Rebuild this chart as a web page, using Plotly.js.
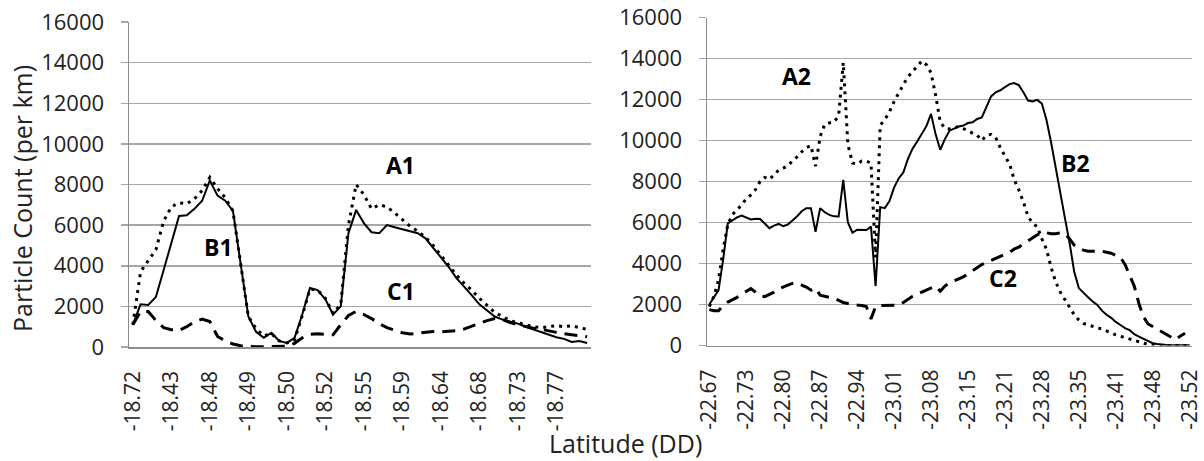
<!DOCTYPE html>
<html>
<head>
<meta charset="utf-8">
<script src="https://cdn.plot.ly/plotly-3.0.1.min.js"></script>
<style>
  html, body { margin: 0; padding: 0; background: #ffffff; }
  #chart { width: 1204px; height: 461px; }
</style>
</head>
<body>
<div id="chart"></div>
<script>
// ---------- Data ----------
// Left panel: 60 samples; a latitude label is shown every 5th sample
const latLabelsLeft = ['-18.72','-18.43','-18.48','-18.49','-18.50','-18.52','-18.55','-18.59','-18.64','-18.68','-18.73','-18.77'];
const labelStepLeft = 5;
const tickStepLeft = 10;

const seriesA1 = [1100,3700,4250,4800,6200,6900,7100,7050,7300,7700,
  8350,7800,7350,6700,4100,1500,900,550,650,300,
  200,350,1550,2850,2800,2400,1650,2100,6000,8000,
  7500,6800,7000,6900,6600,6250,5950,5700,5400,5000,
  4500,4000,3550,3150,2800,2400,2050,1700,1500,1300,
  1200,1100,1000,950,1000,1050,1000,1050,950,870];

const seriesB1 = [1100,2100,2070,2470,3790,5180,6450,6490,6800,7200,
  8200,7450,7200,6700,4100,1500,750,450,700,300,
  200,450,1600,2900,2800,2350,1600,2000,5600,6750,
  6100,5650,5600,6000,5900,5800,5700,5600,5350,4900,
  4450,3950,3400,3000,2550,2100,1800,1500,1350,1250,
  1150,1000,870,750,600,480,400,250,300,200];

const seriesC1 = [1100,1750,1750,1300,950,850,820,1000,1250,1370,
  1250,520,300,150,60,20,10,10,10,10,
  40,180,450,620,650,620,600,1100,1550,1750,
  1600,1400,1150,950,820,700,640,680,740,760,
  750,760,800,880,1020,1150,1300,1400,1350,1200,
  1100,1000,920,870,780,720,650,600,550,500];

// Right panel: 105 samples; a latitude label is shown every 8th sample
const latLabelsRight = ['-22.67','-22.73','-22.80','-22.87','-22.94','-23.01','-23.08','-23.15','-23.21','-23.28','-23.35','-23.41','-23.48','-23.52'];
const labelStepRight = 8;
const tickStepRight = 10;

const seriesA2 = [1900,2400,3200,4700,5900,6400,6600,6900,7150,7350,
  7600,8000,8200,8100,8350,8550,8650,8770,9000,9200,
  9450,9650,9750,8750,10200,10800,10860,10900,11200,13800,
  9800,8900,8850,9000,9000,8900,4300,10750,11020,11400,
  11900,12350,12720,13100,13350,13600,13880,13700,13300,12200,
  10900,10600,10560,10620,10680,10580,10480,10380,10250,10000,
  10250,10300,10150,9650,9250,8850,8100,7600,7000,6300,
  5950,5800,5200,4700,3800,3100,2600,2250,1850,1500,
  1250,1080,1000,920,870,800,700,600,520,450,
  380,320,250,190,120,50,20,0,0,0,
  0,0,0,0,0];

const seriesB2 = [2000,2350,2700,4200,5960,6100,6250,6340,6250,6150,
  6180,6170,5950,5720,5850,5930,5820,5900,6100,6300,
  6550,6700,6700,5550,6700,6500,6370,6300,6290,8080,
  6000,5500,5650,5650,5630,5800,2900,6750,6700,7050,
  7700,8150,8440,9100,9600,9950,10320,10700,11300,10300,
  9550,10070,10480,10600,10680,10730,10850,10890,11050,11130,
  11600,12150,12350,12450,12600,12750,12800,12700,12350,11950,
  11900,11980,11800,11000,9900,8600,7300,6200,5000,3600,
  2800,2550,2350,2150,1980,1700,1500,1350,1150,1000,
  850,750,550,430,330,200,110,70,30,20,
  10,10,10,10,10];

const seriesC2 = [1750,1700,1700,1950,2120,2230,2350,2500,2650,2780,
  2600,2420,2380,2480,2600,2750,2860,2950,3030,3050,
  2950,2850,2700,2800,2450,2400,2370,2300,2200,2100,
  2050,2000,1980,1950,1900,1300,1900,1950,1960,1960,
  1960,1970,2100,2250,2400,2500,2600,2700,2800,2900,
  2650,2900,3050,3150,3250,3350,3500,3650,3800,3950,
  4050,4150,4250,4350,4450,4550,4700,4800,4950,5100,
  5250,5400,5500,5500,5450,5450,5500,5450,5200,4900,
  4750,4650,4600,4600,4580,4600,4550,4500,4400,4300,
  3950,3450,2900,2050,1400,1050,920,800,680,540,
  380,280,470,600];

const panelLabels = ['A1','B1','C1','A2','B2','C2'];

// ---------- Build ----------
const FONT = 'Open Sans, Noto Sans, sans-serif';
const idx = arr => arr.map((_, i) => i);
const xL = idx(seriesB1);
const xR = idx(seriesB2);
const tickValsL = latLabelsLeft.map((_, i) => i * labelStepLeft);
const tickValsR = latLabelsRight.map((_, i) => i * labelStepRight);

const solid = {color: '#000', width: 2};
const dotted = {color: '#000', width: 3, dash: '3px,5px'};
const dashed = {color: '#000', width: 3, dash: '13px,8px'};

const traces = [
  {x: xL, y: seriesC1, xaxis: 'x', yaxis: 'y', mode: 'lines', line: dashed, hoverinfo: 'skip'},
  {x: xL, y: seriesB1, xaxis: 'x', yaxis: 'y', mode: 'lines', line: solid, hoverinfo: 'skip'},
  {x: xL, y: seriesA1, xaxis: 'x', yaxis: 'y', mode: 'lines', line: dotted, hoverinfo: 'skip'},
  {x: xR, y: seriesC2, xaxis: 'x2', yaxis: 'y2', mode: 'lines', line: dashed, hoverinfo: 'skip'},
  {x: xR, y: seriesB2, xaxis: 'x2', yaxis: 'y2', mode: 'lines', line: solid, hoverinfo: 'skip'},
  {x: xR, y: seriesA2, xaxis: 'x2', yaxis: 'y2', mode: 'lines', line: dotted, hoverinfo: 'skip'}
];

const W = 1204, H = 461;
const gridC = '#a6a6a6', axisC = '#8c8c8c', textC = '#222';

function labelAxis(domain, yref, n, vals, text) {
  return {
    domain: domain, anchor: yref, range: [-0.5, n - 0.5], fixedrange: true,
    tickmode: 'array', tickvals: vals, ticktext: text, tickangle: -90,
    ticks: 'outside', ticklen: 8, tickcolor: 'rgba(0,0,0,0)',
    ticklabelstandoff: 6,
    showgrid: false, zeroline: false, showline: true, linecolor: axisC, linewidth: 1.5,
    tickfont: {family: FONT, size: 21, color: textC}
  };
}
function tickAxis(over, yref, n, step) {
  return {
    overlaying: over, anchor: yref, range: [-0.5, n - 0.5], fixedrange: true,
    tickmode: 'linear', tick0: -0.5, dtick: step,
    ticks: 'outside', ticklen: 8, tickcolor: axisC, tickwidth: 1.5,
    showticklabels: false, showgrid: false, zeroline: false, showline: false
  };
}
function valueAxis(domain, xref) {
  return {
    domain: domain, anchor: xref, range: [0, 16000], fixedrange: true,
    tickmode: 'linear', tick0: 0, dtick: 2000, tickformat: 'd',
    showgrid: true, gridcolor: gridC, gridwidth: 1.5,
    showline: true, linecolor: axisC, linewidth: 1.5, zeroline: false,
    ticks: 'outside', ticklen: 7, tickcolor: gridC, tickwidth: 1.5,
    ticklabelstandoff: 12,
    tickfont: {family: FONT, size: 22, color: textC}
  };
}

const nL = seriesB1.length, nR = seriesB2.length;
const layout = {
  width: W, height: H,
  margin: {l: 0, r: 0, t: 0, b: 0, pad: 0},
  paper_bgcolor: '#fff', plot_bgcolor: '#fff',
  showlegend: false,
  xaxis: labelAxis([129 / W, 591 / W], 'y', nL, tickValsL, latLabelsLeft),
  xaxis2: labelAxis([707 / W, 1192 / W], 'y2', nR, tickValsR, latLabelsRight),
  xaxis3: tickAxis('x', 'y', nL, tickStepLeft),
  xaxis4: tickAxis('x2', 'y2', nR, tickStepRight),
  yaxis: valueAxis([(H - 347) / H, (H - 22) / H], 'x'),
  yaxis2: valueAxis([(H - 345.5) / H, (H - 17.5) / H], 'x2'),
  annotations: [
    {text: 'Particle Count (per km)', xref: 'paper', yref: 'paper', x: 22 / W, y: (H - 199) / H,
     textangle: -90, showarrow: false, xanchor: 'center', yanchor: 'middle',
     font: {family: FONT, size: 25, color: textC}},
    {text: 'Latitude (DD)', xref: 'paper', yref: 'paper', x: 625 / W, y: (H - 443) / H,
     showarrow: false, xanchor: 'center', yanchor: 'middle',
     font: {family: FONT, size: 25, color: textC}},
    {text: '<b>' + panelLabels[0] + '</b>', xref: 'x', yref: 'y', x: 34.8, y: 8960, showarrow: false, font: {family: FONT, size: 23, color: '#000'}},
    {text: '<b>' + panelLabels[1] + '</b>', xref: 'x', yref: 'y', x: 11.1, y: 4920, showarrow: false, font: {family: FONT, size: 23, color: '#000'}},
    {text: '<b>' + panelLabels[2] + '</b>', xref: 'x', yref: 'y', x: 34.8, y: 2760, showarrow: false, font: {family: FONT, size: 23, color: '#000'}},
    {text: '<b>' + panelLabels[3] + '</b>', xref: 'x2', yref: 'y2', x: 18.8, y: 13150, showarrow: false, font: {family: FONT, size: 23, color: '#000'}},
    {text: '<b>' + panelLabels[4] + '</b>', xref: 'x2', yref: 'y2', x: 79.2, y: 8900, showarrow: false, font: {family: FONT, size: 23, color: '#000'}},
    {text: '<b>' + panelLabels[5] + '</b>', xref: 'x2', yref: 'y2', x: 63.5, y: 3290, showarrow: false, font: {family: FONT, size: 23, color: '#000'}}
  ]
};

Plotly.newPlot('chart', traces, layout, {staticPlot: true, displayModeBar: false});
</script>
</body>
</html>
